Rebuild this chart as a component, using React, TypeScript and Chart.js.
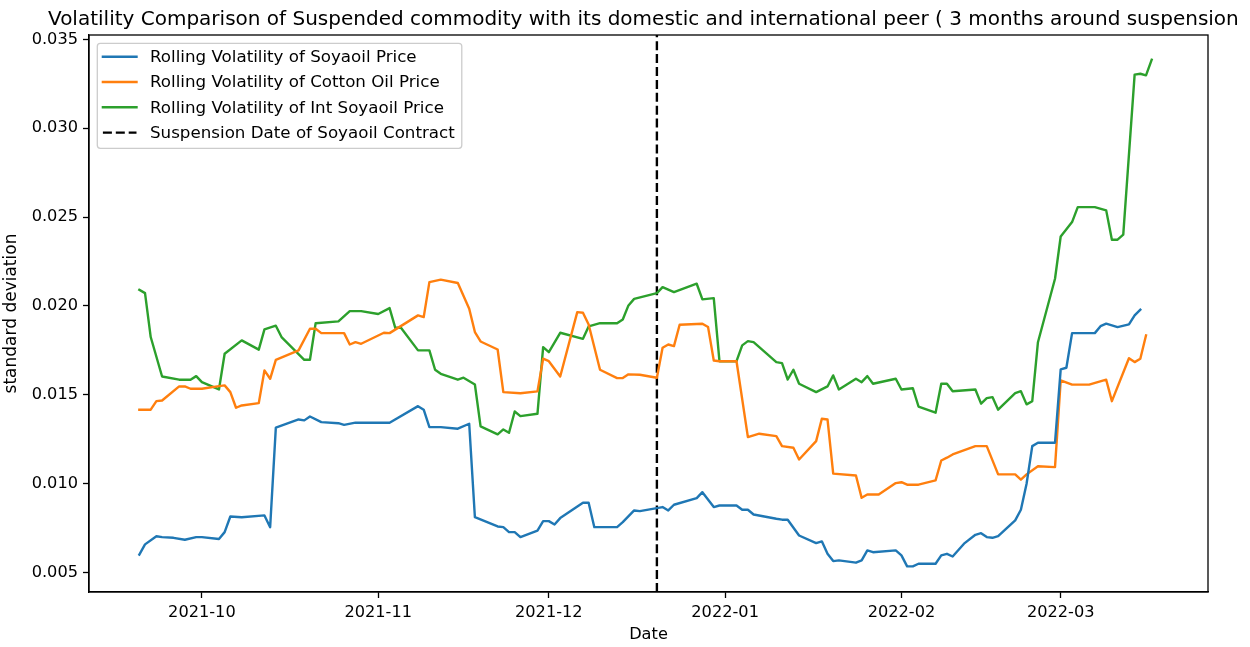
import React, { useEffect, useRef } from "react";
import { Chart, registerables } from "chart.js";

Chart.register(...registerables);

// ---------------- DATA ----------------
const TITLE =
  "Volatility Comparison of Suspended commodity with its domestic and international peer ( 3 months around suspension";
const X_LABEL = "Date";
const Y_LABEL = "standard deviation";

const ORIGIN_DATE = "2021-10-01";
const X_TICK_DATES = ["2021-10-01", "2021-11-01", "2021-12-01", "2022-01-01", "2022-02-01", "2022-03-01"];
const X_TICK_LABELS = ["2021-10", "2021-11", "2021-12", "2022-01", "2022-02", "2022-03"];
const X_LIMITS_DAYS = [-19.85, 176.9];
const Y_TICKS = [0.005, 0.01, 0.015, 0.02, 0.025, 0.03, 0.035];
const Y_LIMITS = [0.0039, 0.03525];

const SUSPENSION_DATE = "2021-12-20";

const SERIES_LABELS = [
  "Rolling Volatility of Soyaoil Price",
  "Rolling Volatility of Cotton Oil Price",
  "Rolling Volatility of Int Soyaoil Price",
  "Suspension Date of Soyaoil Contract",
];

const SOYA_DATES = [
  "2021-09-20", "2021-09-21", "2021-09-23", "2021-09-24", "2021-09-26", "2021-09-28", "2021-09-30",
  "2021-10-01", "2021-10-04", "2021-10-05", "2021-10-06", "2021-10-08", "2021-10-12", "2021-10-13",
  "2021-10-14", "2021-10-18", "2021-10-19", "2021-10-20", "2021-10-22", "2021-10-25", "2021-10-26",
  "2021-10-28", "2021-11-03", "2021-11-08", "2021-11-09", "2021-11-10", "2021-11-12", "2021-11-15",
  "2021-11-17", "2021-11-18", "2021-11-22", "2021-11-23", "2021-11-24", "2021-11-25", "2021-11-26",
  "2021-11-29", "2021-11-30", "2021-12-01", "2021-12-02", "2021-12-03", "2021-12-07", "2021-12-08",
  "2021-12-09", "2021-12-13", "2021-12-14", "2021-12-16", "2021-12-17", "2021-12-20", "2021-12-21",
  "2021-12-22", "2021-12-23", "2021-12-27", "2021-12-28", "2021-12-30", "2021-12-31", "2022-01-03",
  "2022-01-04", "2022-01-05", "2022-01-06", "2022-01-10", "2022-01-11", "2022-01-12", "2022-01-14",
  "2022-01-17", "2022-01-18", "2022-01-19", "2022-01-20", "2022-01-21", "2022-01-24", "2022-01-25",
  "2022-01-26", "2022-01-27", "2022-01-31", "2022-02-01", "2022-02-02", "2022-02-03", "2022-02-04",
  "2022-02-07", "2022-02-08", "2022-02-09", "2022-02-10", "2022-02-12", "2022-02-14", "2022-02-15",
  "2022-02-16", "2022-02-17", "2022-02-18", "2022-02-21", "2022-02-22", "2022-02-23", "2022-02-24",
  "2022-02-25", "2022-02-28", "2022-03-01", "2022-03-02", "2022-03-03", "2022-03-07", "2022-03-08",
  "2022-03-09", "2022-03-11", "2022-03-13", "2022-03-14", "2022-03-15",
];
const SOYA_VALUES = [
  0.00601, 0.00658, 0.00704, 0.00699, 0.00695, 0.00684, 0.00699,
  0.00699, 0.00688, 0.00727, 0.00815, 0.00811, 0.00821, 0.00755,
  0.01315, 0.01361, 0.01356, 0.01378, 0.01346, 0.0134, 0.01331,
  0.01343, 0.01343, 0.01436, 0.01416, 0.01318, 0.01318, 0.01309,
  0.01337, 0.00811, 0.00759, 0.00755, 0.00727, 0.00727, 0.00699,
  0.00736, 0.00789, 0.00789, 0.0077, 0.00806, 0.00892, 0.00892,
  0.00755, 0.00755, 0.00783, 0.00849, 0.00845, 0.00862, 0.00868,
  0.00849, 0.00881, 0.00918, 0.00952, 0.00868, 0.00877, 0.00877,
  0.00853, 0.00853, 0.00826, 0.00802, 0.00797, 0.00797, 0.00708,
  0.00665, 0.00675, 0.00605, 0.00564, 0.00568, 0.00555, 0.00568,
  0.00624, 0.00614, 0.00624, 0.00596, 0.00534, 0.00534, 0.00549,
  0.00549, 0.00596, 0.00605, 0.0059, 0.00662, 0.00712, 0.00721,
  0.00699, 0.00695, 0.00704, 0.00793, 0.00853, 0.00999, 0.01211,
  0.0123, 0.0123, 0.01643, 0.01652, 0.01847, 0.01847, 0.01886,
  0.019, 0.01881, 0.01896, 0.01947, 0.01979,
];

const COTTON_DATES = [
  "2021-09-20", "2021-09-22", "2021-09-23", "2021-09-24", "2021-09-27", "2021-09-28", "2021-09-29",
  "2021-10-01", "2021-10-04", "2021-10-05", "2021-10-06", "2021-10-07", "2021-10-08", "2021-10-11",
  "2021-10-12", "2021-10-13", "2021-10-14", "2021-10-18", "2021-10-20", "2021-10-21", "2021-10-22",
  "2021-10-26", "2021-10-27", "2021-10-28", "2021-10-29", "2021-11-02", "2021-11-03", "2021-11-08",
  "2021-11-09", "2021-11-10", "2021-11-12", "2021-11-15", "2021-11-17", "2021-11-18", "2021-11-19",
  "2021-11-22", "2021-11-23", "2021-11-26", "2021-11-29", "2021-11-30", "2021-12-01", "2021-12-03",
  "2021-12-06", "2021-12-07", "2021-12-08", "2021-12-10", "2021-12-13", "2021-12-14", "2021-12-15",
  "2021-12-17", "2021-12-20", "2021-12-21", "2021-12-22", "2021-12-23", "2021-12-24", "2021-12-28",
  "2021-12-29", "2021-12-30", "2021-12-31", "2022-01-03", "2022-01-05", "2022-01-07", "2022-01-10",
  "2022-01-11", "2022-01-13", "2022-01-14", "2022-01-17", "2022-01-18", "2022-01-19", "2022-01-20",
  "2022-01-24", "2022-01-25", "2022-01-26", "2022-01-28", "2022-01-31", "2022-02-01", "2022-02-02",
  "2022-02-04", "2022-02-07", "2022-02-08", "2022-02-09", "2022-02-10", "2022-02-14", "2022-02-16",
  "2022-02-18", "2022-02-21", "2022-02-22", "2022-02-23", "2022-02-25", "2022-02-28", "2022-03-01",
  "2022-03-03", "2022-03-06", "2022-03-09", "2022-03-10", "2022-03-13", "2022-03-14", "2022-03-15",
  "2022-03-16",
];
const COTTON_VALUES = [
  0.01416, 0.01416, 0.01464, 0.01468, 0.01547, 0.01547, 0.01534,
  0.01534, 0.01549, 0.01553, 0.01515, 0.01427, 0.0144, 0.01453,
  0.01637, 0.0159, 0.01697, 0.0175, 0.01872, 0.01872, 0.01847,
  0.01847, 0.01783, 0.01796, 0.01787, 0.01849, 0.01847, 0.01947,
  0.01937, 0.02134, 0.02148, 0.02129, 0.01984, 0.01853, 0.018,
  0.01755, 0.01515, 0.01509, 0.01519, 0.01703, 0.01689, 0.01603,
  0.01965, 0.01962, 0.01896, 0.01641, 0.01594, 0.01594, 0.01615,
  0.01613, 0.01596, 0.01765, 0.01783, 0.01774, 0.01894, 0.019,
  0.01881, 0.01693, 0.01689, 0.01689, 0.01262, 0.01281, 0.01267,
  0.01211, 0.01202, 0.01136, 0.01239, 0.01365, 0.01361, 0.01056,
  0.01046, 0.0092, 0.00939, 0.00939, 0.01003, 0.01008, 0.00994,
  0.00994, 0.01018, 0.0113, 0.01146, 0.01164, 0.01211, 0.01211,
  0.01052, 0.01052, 0.01022, 0.01052, 0.01098, 0.01093, 0.01581,
  0.01557, 0.01557, 0.01585, 0.01464, 0.01706, 0.01684, 0.01703,
  0.01834,
];

const INT_DATES = [
  "2021-09-20", "2021-09-21", "2021-09-22", "2021-09-24", "2021-09-27", "2021-09-29", "2021-09-30",
  "2021-10-01", "2021-10-04", "2021-10-05", "2021-10-08", "2021-10-11", "2021-10-12", "2021-10-14",
  "2021-10-15", "2021-10-19", "2021-10-20", "2021-10-21", "2021-10-25", "2021-10-27", "2021-10-29",
  "2021-11-01", "2021-11-03", "2021-11-04", "2021-11-05", "2021-11-08", "2021-11-10", "2021-11-11",
  "2021-11-12", "2021-11-15", "2021-11-16", "2021-11-18", "2021-11-19", "2021-11-22", "2021-11-23",
  "2021-11-24", "2021-11-25", "2021-11-26", "2021-11-29", "2021-11-30", "2021-12-01", "2021-12-03",
  "2021-12-07", "2021-12-08", "2021-12-10", "2021-12-13", "2021-12-14", "2021-12-15", "2021-12-16",
  "2021-12-20", "2021-12-21", "2021-12-23", "2021-12-27", "2021-12-28", "2021-12-30", "2021-12-31",
  "2022-01-03", "2022-01-04", "2022-01-05", "2022-01-06", "2022-01-10", "2022-01-11", "2022-01-12",
  "2022-01-13", "2022-01-14", "2022-01-17", "2022-01-19", "2022-01-20", "2022-01-21", "2022-01-24",
  "2022-01-25", "2022-01-26", "2022-01-27", "2022-01-31", "2022-02-01", "2022-02-03", "2022-02-04",
  "2022-02-07", "2022-02-08", "2022-02-09", "2022-02-10", "2022-02-14", "2022-02-15", "2022-02-16",
  "2022-02-17", "2022-02-18", "2022-02-21", "2022-02-22", "2022-02-23", "2022-02-24", "2022-02-25",
  "2022-02-28", "2022-03-01", "2022-03-03", "2022-03-04", "2022-03-07", "2022-03-09", "2022-03-10",
  "2022-03-11", "2022-03-12", "2022-03-14", "2022-03-15", "2022-03-16", "2022-03-17",
];
const INT_VALUES = [
  0.02091, 0.02072, 0.01825, 0.01603, 0.01585, 0.01585, 0.01605,
  0.01571, 0.0153, 0.01731, 0.01806, 0.01754, 0.01868, 0.01889,
  0.01825, 0.01697, 0.01697, 0.01903, 0.01913, 0.01971, 0.01971,
  0.01955, 0.01988, 0.01877, 0.01877, 0.0175, 0.0175, 0.01641,
  0.01618, 0.01585, 0.01596, 0.01558, 0.01322, 0.01277, 0.01305,
  0.01286, 0.01406, 0.0138, 0.01393, 0.01768, 0.0174, 0.01849,
  0.01815, 0.01885, 0.01903, 0.01903, 0.01924, 0.02003, 0.0204,
  0.02072, 0.02106, 0.02078, 0.02125, 0.02037, 0.02044, 0.01689,
  0.01689, 0.01778, 0.01802, 0.01796, 0.01684, 0.01678, 0.01586,
  0.01641, 0.01562, 0.01515, 0.01547, 0.01609, 0.0153, 0.0159,
  0.01571, 0.01605, 0.01562, 0.0159, 0.0153, 0.01537, 0.01434,
  0.01399, 0.01562, 0.01562, 0.0152, 0.0153, 0.0145, 0.01481,
  0.01487, 0.01416, 0.01509, 0.0152, 0.01446, 0.01464, 0.01796,
  0.02153, 0.02391, 0.02472, 0.02556, 0.02556, 0.02538, 0.02373,
  0.02373, 0.02401, 0.03302, 0.03307, 0.03298, 0.03386,
];

// ---------------- HELPERS ----------------
const FONT_FAMILY = "'DejaVu Sans', 'Liberation Sans', sans-serif";

function toDay(s: string): number {
  const [y, m, d] = s.split("-").map(Number);
  const [oy, om, od] = ORIGIN_DATE.split("-").map(Number);
  return (Date.UTC(y, m - 1, d) - Date.UTC(oy, om - 1, od)) / 86400000;
}

function toPoints(dates: string[], values: number[]) {
  return dates.map((d, i) => ({ x: toDay(d), y: values[i] }));
}

const titlePlugin = {
  id: "mplTitle",
  afterDraw(chart: any) {
    const ctx = chart.ctx;
    ctx.save();
    ctx.font = `20px ${FONT_FAMILY}`;
    ctx.fillStyle = "#000";
    ctx.textAlign = "left";
    ctx.textBaseline = "alphabetic";
    ctx.fillText(TITLE, 48, 25);
    ctx.restore();
  },
};

const framePlugin = {
  id: "mplFrame",
  afterDraw(chart: any) {
    const { ctx, chartArea: a } = chart;
    ctx.save();
    ctx.strokeStyle = "#000";
    ctx.lineWidth = 1.3;
    ctx.strokeRect(a.left, a.top, a.right - a.left, a.bottom - a.top);
    ctx.restore();
  },
};

const legendPlugin = {
  id: "mplLegend",
  afterDatasetsDraw(chart: any) {
    const { ctx, chartArea: a } = chart;
    const items = chart.data.datasets.map((ds: any) => ({
      label: ds.label,
      color: ds.borderColor,
      dash: ds.borderDash || [],
    }));
    ctx.save();
    ctx.font = `16.7px ${FONT_FAMILY}`;
    const maxW = Math.max(...items.map((it: any) => ctx.measureText(it.label).width));
    const x0 = a.left + 8.3;
    const y0 = a.top + 8.3;
    const textOffset = 52.7;
    const w = textOffset + maxW + 7;
    const h = 105;
    const r = 3;
    ctx.beginPath();
    ctx.moveTo(x0 + r, y0);
    ctx.lineTo(x0 + w - r, y0);
    ctx.arcTo(x0 + w, y0, x0 + w, y0 + r, r);
    ctx.lineTo(x0 + w, y0 + h - r);
    ctx.arcTo(x0 + w, y0 + h, x0 + w - r, y0 + h, r);
    ctx.lineTo(x0 + r, y0 + h);
    ctx.arcTo(x0, y0 + h, x0, y0 + h - r, r);
    ctx.lineTo(x0, y0 + r);
    ctx.arcTo(x0, y0, x0 + r, y0, r);
    ctx.closePath();
    ctx.fillStyle = "rgba(255,255,255,0.8)";
    ctx.fill();
    ctx.strokeStyle = "#cccccc";
    ctx.lineWidth = 1.3;
    ctx.stroke();

    items.forEach((it: any, i: number) => {
      const cy = y0 + 13.4 + i * 25.3;
      ctx.beginPath();
      ctx.setLineDash(it.dash);
      ctx.strokeStyle = it.color;
      ctx.lineWidth = 2.4;
      ctx.lineCap = it.dash.length ? "butt" : "square";
      ctx.moveTo(x0 + 5.6, cy);
      ctx.lineTo(x0 + 39.2, cy);
      ctx.stroke();
      ctx.setLineDash([]);
      ctx.fillStyle = "#000";
      ctx.textAlign = "left";
      ctx.textBaseline = "middle";
      ctx.fillText(it.label, x0 + textOffset, cy + 1);
    });
    ctx.restore();
  },
};

export default function App() {
  const canvasRef = useRef<HTMLCanvasElement | null>(null);

  useEffect(() => {
    if (!canvasRef.current) return;
    const tickFont = { family: FONT_FAMILY, size: 16.2 };
    const yTitleFont = { family: FONT_FAMILY, size: 17 };
    const suspensionDay = toDay(SUSPENSION_DATE);
    const lineCommon = {
      pointRadius: 0,
      borderWidth: 2.4,
      tension: 0,
      fill: false,
      borderJoinStyle: "round" as const,
      borderCapStyle: "square" as const,
    };
    const chart = new Chart(canvasRef.current, {
      type: "line",
      data: {
        datasets: [
          { ...lineCommon, label: SERIES_LABELS[0], data: toPoints(SOYA_DATES, SOYA_VALUES), borderColor: "#1f77b4", backgroundColor: "#1f77b4" },
          { ...lineCommon, label: SERIES_LABELS[1], data: toPoints(COTTON_DATES, COTTON_VALUES), borderColor: "#ff7f0e", backgroundColor: "#ff7f0e" },
          { ...lineCommon, label: SERIES_LABELS[2], data: toPoints(INT_DATES, INT_VALUES), borderColor: "#2ca02c", backgroundColor: "#2ca02c" },
          {
            ...lineCommon,
            label: SERIES_LABELS[3],
            data: [
              { x: suspensionDay, y: Y_LIMITS[0] },
              { x: suspensionDay, y: Y_LIMITS[1] },
            ],
            borderColor: "#000000",
            backgroundColor: "#000000",
            borderDash: [9, 3.9],
            borderCapStyle: "butt" as const,
          },
        ],
      },
      options: {
        responsive: false,
        animation: false,
        devicePixelRatio: 1,
        layout: { padding: { left: 0, right: 42, top: 35, bottom: 0 } },
        plugins: {
          legend: { display: false },
          title: { display: false },
          tooltip: { enabled: false },
        },
        scales: {
          x: {
            type: "linear",
            min: X_LIMITS_DAYS[0],
            max: X_LIMITS_DAYS[1],
            afterBuildTicks: (scale: any) => {
              scale.ticks = X_TICK_DATES.map((d) => ({ value: toDay(d) }));
            },
            afterFit: (scale: any) => {
              scale.height = 55;
            },
            ticks: {
              autoSkip: false,
              maxRotation: 0,
              minRotation: 0,
              padding: 5,
              color: "#000",
              font: tickFont,
              callback: (v: any) => {
                const idx = X_TICK_DATES.findIndex((d) => Math.abs(toDay(d) - Number(v)) < 0.01);
                return idx >= 0 ? X_TICK_LABELS[idx] : "";
              },
            },
            grid: { drawOnChartArea: false, drawTicks: true, tickLength: 6, tickColor: "#000", tickWidth: 1.3 },
            border: { display: true, color: "#000", width: 1.3 },
            title: { display: true, text: X_LABEL, color: "#000", font: tickFont, padding: { top: 0, bottom: 2.3 } },
          },
          y: {
            type: "linear",
            min: Y_LIMITS[0],
            max: Y_LIMITS[1],
            afterBuildTicks: (scale: any) => {
              scale.ticks = Y_TICKS.map((v) => ({ value: v }));
            },
            afterFit: (scale: any) => {
              scale.width = 89;
            },
            ticks: {
              padding: 5,
              color: "#000",
              font: tickFont,
              callback: (v: any) => Number(v).toFixed(3),
            },
            grid: { drawOnChartArea: false, drawTicks: true, tickLength: 6, tickColor: "#000", tickWidth: 1.3 },
            border: { display: true, color: "#000", width: 1.3 },
            title: { display: true, text: Y_LABEL, color: "#000", font: yTitleFont, padding: { top: 1.5, bottom: 0 } },
          },
        },
      } as any,
      plugins: [legendPlugin, framePlugin, titlePlugin],
    });
    return () => chart.destroy();
  }, []);

  return (
    <div style={{ position: "absolute", left: 0, top: 0, width: 1250, height: 647, background: "#fff" }}>
      <canvas ref={canvasRef} width={1250} height={647} style={{ width: 1250, height: 647, display: "block" }} />
    </div>
  );
}
